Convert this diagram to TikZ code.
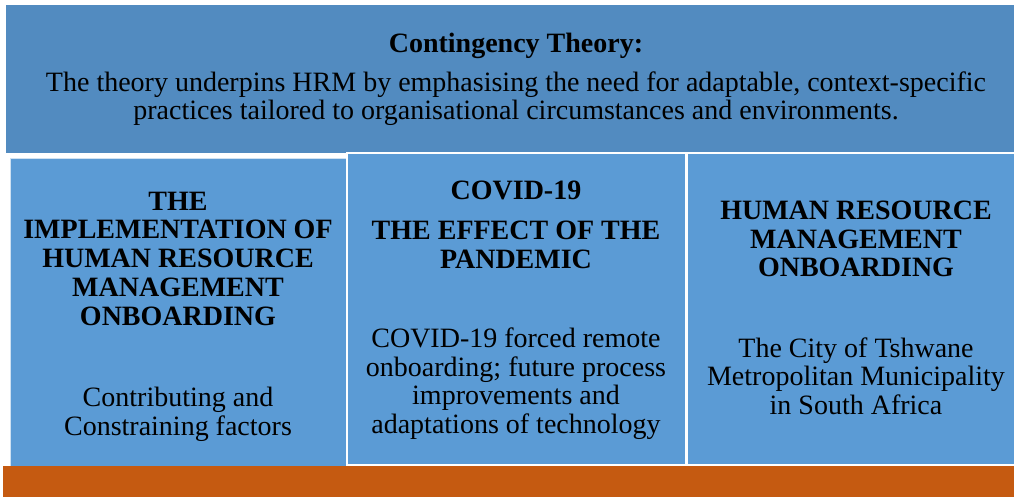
\documentclass[tikz,border=0pt]{standalone}
\usepackage{fontspec}
\setmainfont{Liberation Serif}
\definecolor{topblue}{HTML}{528BC0}
\definecolor{boxblue}{HTML}{5B9BD5}
\definecolor{barorange}{HTML}{C55A11}
\tikzset{
  panel/.style={fill=boxblue, draw=white, line width=1.5pt},
  body/.style={font=\fontsize{28}{28.5}\selectfont, align=center, anchor=base, inner sep=0pt, text=black},
  head/.style={font=\fontsize{28}{28.7}\selectfont\bfseries, align=center, anchor=base, inner sep=0pt, text=black}
}
\begin{document}
\begin{tikzpicture}[x=1pt,y=-1pt]
\useasboundingbox (0,0) rectangle (1014,497);
\fill[white] (0,0) rectangle (1014,497);
% top box
\node[fill=topblue, inner sep=0pt, minimum width=1008pt, minimum height=148pt, anchor=north west] (top) at (6,5) {};
\node[head] (title) at (516,52.7) {Contingency Theory:};
\node[body, font=\fontsize{28}{28}\selectfont] (toptext) at (516,120) {The theory underpins HRM by emphasising the need for adaptable, context-specific\\practices tailored to organisational circumstances and environments.};
% panels
\draw[panel, draw=white!70!boxblue, line width=1pt] (10,159) rectangle (346,466);
\draw[panel] (347,153) rectangle (686,465);
\draw[panel] (687,153) rectangle (1016,465);
% orange bar
\fill[barorange] (3,466) rectangle (1014,497);
% left texts
\node[head] (lhead) at (178,325) {THE\\IMPLEMENTATION OF\\HUMAN RESOURCE\\MANAGEMENT\\ONBOARDING};
\node[body] (lbody) at (178,435) {Contributing and\\Constraining factors};
% middle texts
\node[head] (mhead1) at (516,200) {COVID-19};
\node[head] (mhead2) at (516,268.3) {THE EFFECT OF THE\\PANDEMIC};
\node[body] (mbody) at (516,433.3) {COVID-19 forced remote\\onboarding; future process\\improvements and\\adaptations of technology};
% right texts
\node[head] (rhead) at (856,276.7) {HUMAN RESOURCE\\MANAGEMENT\\ONBOARDING};
\node[body] (rbody) at (856,414) {The City of Tshwane\\Metropolitan Municipality\\in South Africa};
\end{tikzpicture}
\end{document}
